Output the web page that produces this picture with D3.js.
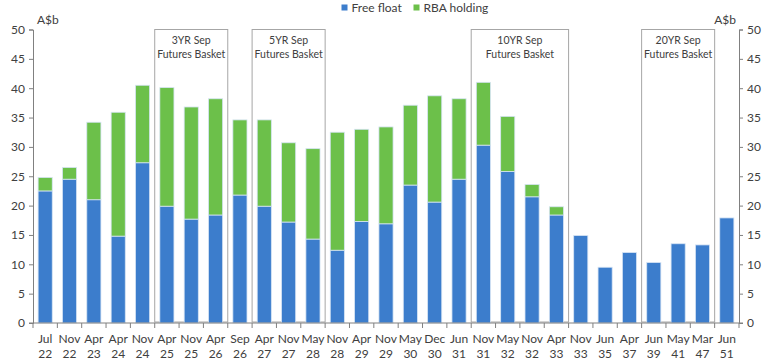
<!DOCTYPE html>
<html><head><meta charset="utf-8">
<script src="https://cdn.jsdelivr.net/npm/d3@7"></script>
<style>body{margin:0;background:#fff}svg{display:block}text{font-family:Lato,"Liberation Sans",sans-serif;fill:#404040}</style>
</head><body><svg id="c" width="768" height="364"></svg>
<script>
const months = ["Jul","Nov","Apr","Apr","Nov","Apr","Nov","Apr","Sep","Apr","Nov","May","Nov","Apr","Nov","May","Dec","Jun","Nov","May","Nov","Apr","Nov","Jun","Apr","Jun","May","Mar","Jun"];
const years  = ["22","22","23","24","24","25","25","26","26","27","27","28","28","29","29","30","30","31","31","32","32","33","33","35","37","39","41","47","51"];
const freeFloat = [22.5,24.5,21.0,14.8,27.3,19.9,17.7,18.4,21.8,19.9,17.2,14.3,12.4,17.3,16.9,23.5,20.6,24.5,30.3,25.8,21.5,18.4,14.9,9.5,12.0,10.3,13.5,13.3,17.9];
const rbaHolding = [2.3,2.0,13.2,21.1,13.2,20.2,19.1,19.8,12.8,14.7,13.5,15.4,20.1,15.7,16.5,13.6,18.1,13.7,10.7,9.4,2.1,1.4,0,0,0,0,0,0,0];
const yTicks = [0,5,10,15,20,25,30,35,40,45,50];
const baskets = [
  {label:["3YR Sep","Futures Basket"], from:5, to:7},
  {label:["5YR Sep","Futures Basket"], from:9, to:11},
  {label:["10YR Sep","Futures Basket"], from:18, to:21},
  {label:["20YR Sep","Futures Basket"], from:25, to:27}
];
const seriesNames = ["Free float","RBA holding"];
const colors = ["#3c7dcc","#6cc04a"];

const svg = d3.select("#c");
const L = 33, R = 739, T = 29.5, B = 323;
const cats = months.map((m,i)=>i);
const x = d3.scaleBand().domain(cats).range([L,R]).paddingInner(0.42).paddingOuter(0.21);
const xb = d3.scaleLinear().domain([0,cats.length]).range([L,R]);
const y = d3.scaleLinear().domain([0,50]).range([B,T]);

// baskets
baskets.forEach(b=>{
  const x0 = xb(b.from), x1 = xb(b.to+1);
  svg.append("rect").attr("x",x0).attr("y",y(50)).attr("width",x1-x0).attr("height",y(0)-y(50)-1)
    .attr("fill","none").attr("stroke","#a6a6a6").attr("stroke-width",1);
  b.label.forEach((t,k)=>{
    svg.append("text").attr("x",(x0+x1)/2).attr("y",y(50)+14+k*14).attr("text-anchor","middle")
      .style("font-size","10.5px").text(t);
  });
});

// stacked bars
const data = cats.map(i=>({i, ff:freeFloat[i], rba:rbaHolding[i]}));
const stack = d3.stack().keys(["ff","rba"])(data);
stack.forEach((s,si)=>{
  svg.append("g").selectAll("rect").data(s.filter(d=>d[1]-d[0]>0)).join("rect")
    .attr("x",d=>x(d.data.i)).attr("width",x.bandwidth())
    .attr("y",d=>y(d[1])).attr("height",d=>y(d[0])-y(d[1]))
    .attr("fill",colors[si]).attr("stroke","#d6e4f4").attr("stroke-width",0.8);
});

// axes
const axL = svg.append("g").attr("transform",`translate(${L},0)`).call(d3.axisLeft(y).tickValues(yTicks).tickSize(4).tickPadding(4));
const axR = svg.append("g").attr("transform",`translate(${R},0)`).call(d3.axisRight(y).tickValues(yTicks).tickSize(4).tickPadding(4));
[axL,axR].forEach(a=>{
  a.select(".domain").attr("stroke","#808080");
  a.selectAll(".tick line").attr("stroke","#808080");
  a.selectAll("text").style("font-size","12px").style("font-family","Lato").attr("fill","#404040");
});
const axB = svg.append("g").attr("transform",`translate(0,${B})`);
axB.append("line").attr("x1",L-4).attr("x2",R+4).attr("y1",0).attr("y2",0).attr("stroke","#808080");
axB.selectAll("line.t").data(d3.range(cats.length+1)).join("line").attr("class","t")
  .attr("x1",d=>xb(d)).attr("x2",d=>xb(d)).attr("y1",0).attr("y2",5).attr("stroke","#808080");
const lab = axB.selectAll("text").data(cats).join("text")
  .attr("text-anchor","middle").style("font-size","12px");
lab.append("tspan").attr("x",d=>x(d)+x.bandwidth()/2).attr("y",20).text(d=>months[d]);
lab.append("tspan").attr("x",d=>x(d)+x.bandwidth()/2).attr("y",35).text(d=>years[d]);

// unit labels
svg.append("text").attr("x",37).attr("y",24).style("font-size","12px").text("A$b");
svg.append("text").attr("x",736).attr("y",24).attr("text-anchor","end").style("font-size","12px").text("A$b");

// legend
const lg = svg.append("g");
const lx = [341.5, 413.5];
seriesNames.forEach((n,i)=>{
  lg.append("rect").attr("x",lx[i]).attr("y",4.5).attr("width",6).attr("height",6).attr("fill",colors[i]);
  lg.append("text").attr("x",lx[i]+10).attr("y",12).style("font-size","12px").text(n);
});
</script></body></html>
